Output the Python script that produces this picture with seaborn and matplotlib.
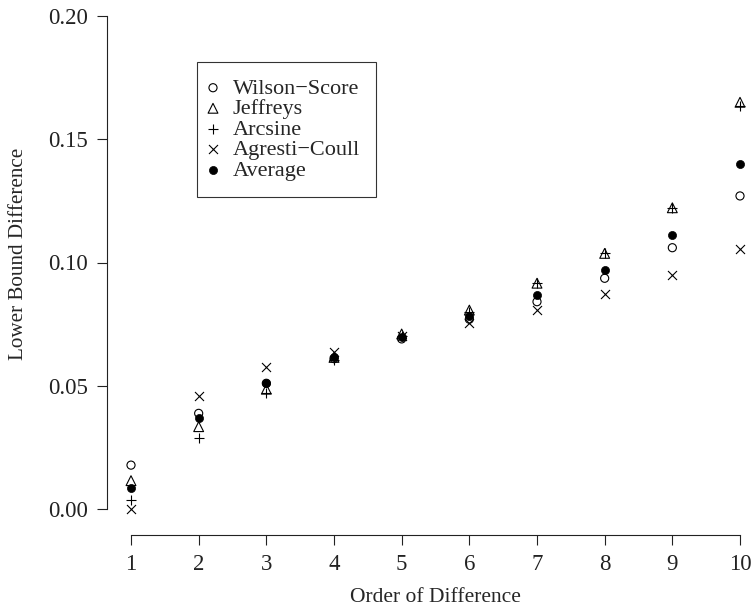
import numpy as np
import pandas as pd
import matplotlib
matplotlib.use("Agg")
import matplotlib.pyplot as plt
import seaborn as sns

# ─── Data ─────────────────────────────────────────────────────────────────────
order    = [1, 2, 3, 4, 5, 6, 7, 8, 9, 10]
wilson   = [0.0178, 0.0388, 0.0510, 0.0610, 0.0690, 0.0770, 0.0841, 0.0936, 0.1060, 0.1270]
jeffreys = [0.0115, 0.0334, 0.0486, 0.0615, 0.0710, 0.0807, 0.0916, 0.1037, 0.1222, 0.1650]
arcsine  = [0.0037, 0.0287, 0.0470, 0.0605, 0.0700, 0.0800, 0.0916, 0.1037, 0.1222, 0.1635]
agresti  = [0.0000, 0.0460, 0.0577, 0.0635, 0.0700, 0.0753, 0.0807, 0.0872, 0.0949, 0.1054]
average  = [0.0084, 0.0368, 0.0512, 0.0617, 0.0699, 0.0783, 0.0868, 0.0970, 0.1112, 0.1400]

methods = ["Wilson\u2212Score", "Jeffreys", "Arcsine", "Agresti\u2212Coull", "Average"]
series  = [wilson, jeffreys, arcsine, agresti, average]

df = pd.concat([pd.DataFrame({"order": order, "value": v, "method": m})
                for m, v in zip(methods, series)], ignore_index=True)

# ─── Style ────────────────────────────────────────────────────────────────────
sns.set_style("ticks")
plt.rcParams["font.family"] = ["Liberation Serif", "DejaVu Serif"]

W, H = 751, 608
fig = plt.figure(figsize=(W / 100, H / 100), dpi=100)
ax_l, ax_b, ax_t = 107, 535, 5
ax = fig.add_axes([ax_l / W, (H - ax_b) / H, (W - ax_l) / W, (ax_b - ax_t) / H])

styles = {
    "Wilson\u2212Score":  dict(marker="o", facecolor="none", edgecolor="black", s=34, linewidth=0.8),
    "Jeffreys":          dict(marker="^", facecolor="none", edgecolor="black", s=50, linewidth=0.8),
    "Arcsine":           dict(marker="+", color="black", s=52, linewidth=0.8),
    "Agresti\u2212Coull": dict(marker="x", color="black", s=42, linewidth=0.8),
    "Average":           dict(marker="o", color="black", edgecolor="black", s=34, linewidth=0.5),
}

for m in methods:
    sub = df[df["method"] == m]
    sns.scatterplot(data=sub, x="order", y="value", ax=ax, label=m, **styles[m])

# ─── Axes (R-like detached axes) ──────────────────────────────────────────────
px_per_x = (740 - 131) / 9
ax.set_xlim(1 - (131 - ax_l) / px_per_x, 10 + (W - 740) / px_per_x)
px_per_y = (509 - 16) / 0.20
ax.set_ylim(-(ax_b - 509) / px_per_y, (509 - ax_t) / px_per_y)

ax.set_xticks(order)
ax.set_yticks([0.00, 0.05, 0.10, 0.15, 0.20])
ax.set_yticklabels(["0.00", "0.05", "0.10", "0.15", "0.20"])
ax.spines["top"].set_visible(False)
ax.spines["right"].set_visible(False)
ax.spines["left"].set_bounds(0, 0.20)
ax.spines["bottom"].set_bounds(1, 10)
for s in ["left", "bottom"]:
    ax.spines[s].set_linewidth(0.8)
    ax.spines[s].set_color("#222222")
ax.tick_params(direction="out", length=7, width=0.8, labelsize=16.5, colors="#222222")
ax.tick_params(axis="y", pad=6.5)
ax.tick_params(axis="x", pad=7)

ax.set_xlabel("Order of Difference", fontsize=15.5, labelpad=9)
ax.set_ylabel("Lower Bound Difference", fontsize=15.2, labelpad=15)
ax.xaxis.label.set_x((435 - ax_l) / (W - ax_l))
ax.yaxis.label.set_y((ax_b - 254) / (ax_b - ax_t))

leg = ax.legend(loc="upper left", bbox_to_anchor=((197 - ax_l) / (W - ax_l), (ax_b - 62) / (ax_b - ax_t)),
                borderaxespad=0, fontsize=16, frameon=True, fancybox=False,
                handlelength=0, handletextpad=0.9, labelspacing=0.0, borderpad=0.72)
leg.get_frame().set_edgecolor("black")
leg.get_frame().set_linewidth(0.8)

fig.savefig("out.png", dpi=100)
